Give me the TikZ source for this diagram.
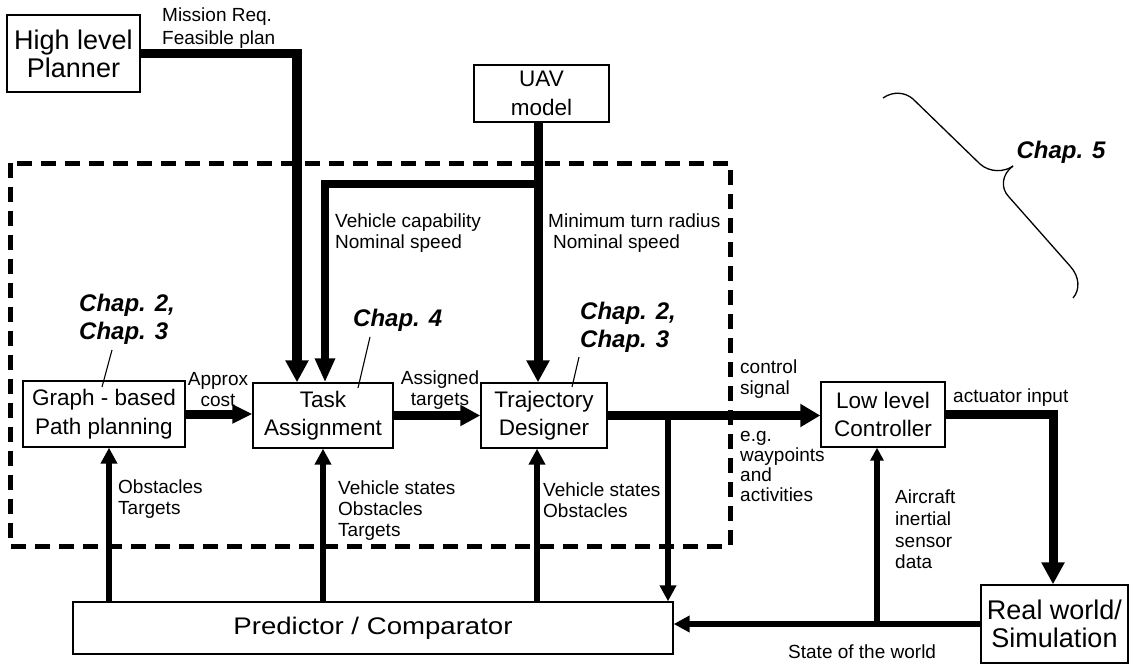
\documentclass[tikz,border=0pt]{standalone}
\usepackage{fontspec}
\setmainfont{Liberation Sans}
\newfontfamily\widefont[FakeStretch=1.15]{Liberation Sans}
\usetikzlibrary{arrows.meta}
\begin{document}
\begin{tikzpicture}[x=1pt,y=-1pt,
  box/.style={draw,line width=1.4pt,inner sep=0pt,align=center},
  big/.style={font=\fontsize{27}{28}\selectfont},
  med/.style={font=\fontsize{22.5}{28.5}\selectfont},
  lab/.style={font=\fontsize{19}{21}\selectfont,align=left,inner sep=0pt},
  chap/.style={font=\fontsize{24}{28}\selectfont\bfseries\itshape,inner sep=0pt,align=left},
  thickline/.style={line width=9pt},
  thinline/.style={line width=6.5pt},
  bigtip/.style={-{Triangle[length=22pt,width=22pt]}},
  smalltip/.style={-{Triangle[length=16pt,width=16pt]}},
  leader/.style={line width=1.1pt},
]
\useasboundingbox (0,0) rectangle (1132,666);

% dashed region
\draw[line width=5pt, dash pattern=on 15pt off 9pt] (10,163) rectangle (730,546);

% boxes
\node[box,big,minimum width=133pt,minimum height=77pt] (planner) at (73.5,53.5) {High level\\Planner};
\node[box,med,minimum width=135pt,minimum height=57pt] (uav) at (541.5,93.5) {UAV\\model};
\node[box,med,minimum width=162pt,minimum height=66pt] (graph) at (104,414) {Graph - based\\Path planning};
\node[box,med,minimum width=140pt,minimum height=65pt] (task) at (323,415.5) {Task\\Assignment};
\node[box,med,minimum width=126pt,minimum height=65pt] (traj) at (544,415.5) {Trajectory\\Designer};
\node[box,med,minimum width=124pt,minimum height=65pt] (low) at (883,414.5) {Low level\\Controller};
\node[box,big,minimum width=147pt,minimum height=78pt] (real) at (1054.5,624) {Real world/\\Simulation};
\node[box,font=\widefont\fontsize{24}{28}\selectfont,minimum width=600pt,minimum height=52pt] (pred) at (373,628) {Predictor / Comparator};

% top connectors
\draw[line width=9.5pt,bigtip] (planner.east) -| ([xshift=-26pt]task.north);
\coordinate (ux) at ([xshift=-3.5pt]uav.south);
\draw[thickline,bigtip] (ux) -- (ux |- traj.north);
\coordinate (ubr) at (538,184);
\draw[line width=8pt,-{Triangle[length=24pt,width=19pt]}] (ubr) -| ([xshift=2pt]task.north);

% horizontal flow
\draw[thickline,-{Triangle[length=20pt,width=18pt]}] (graph.east) -- (task.west |- graph.east);
\draw[thickline,-{Triangle[length=20pt,width=20pt]}] (task.east) -- (traj.west);
\draw[line width=8.5pt,-{Triangle[length=20pt,width=22pt]}] (traj.east) -- (low.west |- traj.east);
\draw[thickline,bigtip] (low.east) -| ([xshift=-1.5pt]real.north);

% feedback
\coordinate (csb) at (668,415.5);
\draw[line width=5.5pt,smalltip] (csb) -- (csb |- pred.north);
\draw[thinline,smalltip] (real.west) -- (real.west -| pred.east);
\coordinate (lb) at ([xshift=-6pt]low.south);
\draw[thinline,-{Triangle[length=13pt,width=13pt]}] (lb |- real.west) -- (lb);
\coordinate (gb) at ([xshift=5pt]graph.south);
\draw[thinline,smalltip] (gb |- pred.north) -- (gb);
\coordinate (tb) at (task.south);
\draw[thinline,smalltip] (tb |- pred.north) -- (tb);
\coordinate (jb) at ([xshift=-7pt]traj.south);
\draw[thinline,smalltip] (jb |- pred.north) -- (jb);

% labels
\node[lab,font=\fontsize{19}{23}\selectfont,anchor=west] (lmr) at (162,28.5) {Mission Req.\\Feasible plan};
\node[lab,anchor=west] (lvc) at (335,233) {Vehicle capability\\Nominal speed};
\node[lab,anchor=west] (lmt) at (548,233) {Minimum turn radius\\\hspace*{5pt}Nominal speed};
\node[lab,align=center] (lac) at (218,390) {Approx\\cost};
\node[lab,align=center] (lat) at (440,390) {Assigned\\targets};
\node[lab,anchor=west] (lot) at (118,499.5) {Obstacles\\Targets};
\node[lab,anchor=west] (lvs) at (338,510.5) {Vehicle states\\Obstacles\\Targets};
\node[lab,anchor=west] (lvs2) at (543,500.5) {Vehicle states\\Obstacles};
\node[lab,anchor=west] (lcs) at (740,379) {control\\signal};
\node[lab,font=\fontsize{19}{20.3}\selectfont,anchor=west] (leg) at (740,466.5) {e.g.\\waypoints\\and\\activities};
\node[lab,anchor=west] (lai) at (953,398) {actuator input};
\node[lab,font=\fontsize{19}{21.7}\selectfont,anchor=west] (lac2) at (895,529.5) {Aircraft\\inertial\\sensor\\data};
\node[lab,anchor=west] (lsw) at (788,652) {State of the world};

% chapter labels
\node[chap,anchor=west] (c1) at (79,319) {Chap. 2,\\Chap. 3};
\node[chap,anchor=west] (c2) at (353,320) {Chap. 4};
\node[chap,anchor=west] (c3) at (580,327) {Chap. 2,\\Chap. 3};
\node[chap] (c5) at (1061,152) {Chap. 5};
\draw[leader] (112,350) -- (102,387);
\draw[leader] (370,337) -- (358,388);
\draw[leader] (579,357) -- (572,387);

% brace
\draw[line width=1.3pt] (883,98) .. controls (893,91) and (905,92) .. (913,99) -- (980,164) .. controls (990,173) and (1005,172) .. (1013,166);
\draw[line width=1.3pt] (1013,166) .. controls (1002,174) and (1000,188) .. (1009,197) -- (1070,266) .. controls (1080,277) and (1080,290) .. (1073,298);
\end{tikzpicture}
\end{document}
